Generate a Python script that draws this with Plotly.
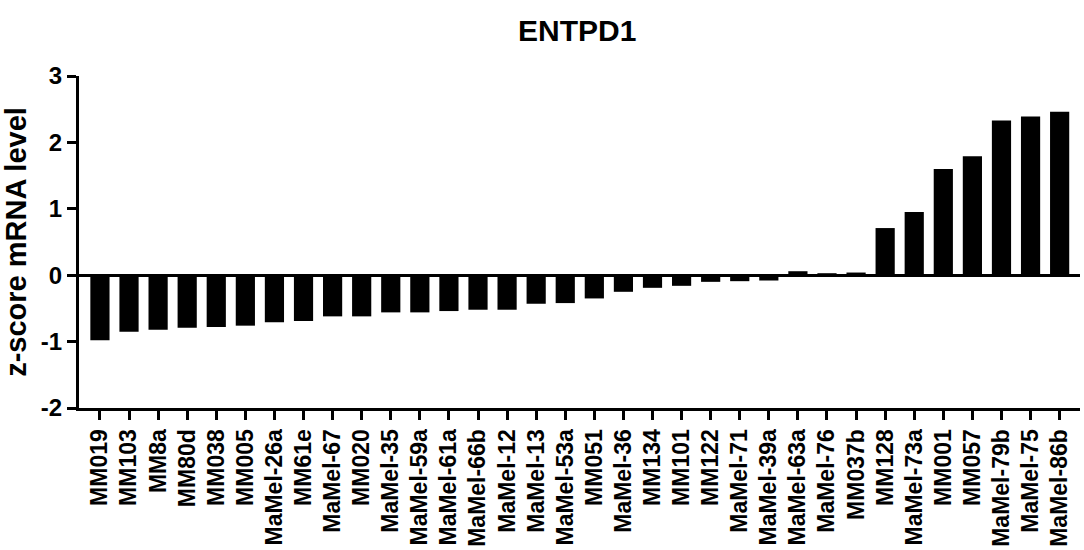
import plotly.graph_objects as go

# Cell lines ordered by ENTPD1 expression
cell_lines = [
    "MM019", "MM103", "MM8a", "MM80d", "MM038", "MM005", "MaMel-26a", "MM61e",
    "MaMel-67", "MM020", "MaMel-35", "MaMel-59a", "MaMel-61a", "MaMel-66b",
    "MaMel-12", "MaMel-13", "MaMel-53a", "MM051", "MaMel-36", "MM134", "MM101",
    "MM122", "MaMel-71", "MaMel-39a", "MaMel-63a", "MaMel-76", "MM037b", "MM128",
    "MaMel-73a", "MM001", "MM057", "MaMel-79b", "MaMel-75", "MaMel-86b",
]
z_scores = [
    -0.98, -0.85, -0.82, -0.79, -0.78, -0.76, -0.71, -0.69,
    -0.62, -0.62, -0.56, -0.56, -0.54, -0.52,
    -0.52, -0.43, -0.42, -0.35, -0.25, -0.19, -0.16,
    -0.10, -0.09, -0.08, 0.06, 0.03, 0.04, 0.71,
    0.95, 1.60, 1.79, 2.33, 2.39, 2.46,
]
y_ticks = [-2, -1, 0, 1, 2, 3]
y_tick_labels = ["-2", "-1", "0", "1", "2", "3"]

FONT = "Liberation Sans, Arial, sans-serif"

fig = go.Figure(
    go.Bar(
        x=list(range(len(cell_lines))),
        y=z_scores,
        width=0.66,
        marker=dict(color="black", line=dict(width=0)),
        hoverinfo="x+y",
    )
)

fig.update_layout(
    width=1084,
    height=550,
    margin=dict(l=79, r=4, t=76, b=142),
    plot_bgcolor="white",
    paper_bgcolor="white",
    showlegend=False,
    title=dict(
        text="ENTPD1",
        x=0.5325,
        xanchor="center",
        y=0.945,
        yref="container",
        yanchor="middle",
        font=dict(family=FONT, size=30, color="black", weight="bold"),
    ),
)

fig.update_xaxes(
    range=[-0.72, len(cell_lines) - 0.3],
    tickmode="array",
    tickvals=list(range(len(cell_lines))),
    ticktext=cell_lines,
    tickangle=-90,
    ticks="outside",
    ticklen=9,
    tickwidth=2.5,
    tickcolor="black",
    showline=True,
    linecolor="black",
    linewidth=3,
    showgrid=False,
    zeroline=False,
    tickfont=dict(family=FONT, size=23, color="black", weight="bold"),
)

fig.update_yaxes(
    range=[-2, 3],
    tickmode="array",
    tickvals=y_ticks,
    ticktext=y_tick_labels,
    ticks="outside",
    ticklen=9,
    tickwidth=2.5,
    tickcolor="black",
    showline=True,
    linecolor="black",
    linewidth=3,
    showgrid=False,
    zeroline=True,
    zerolinecolor="black",
    zerolinewidth=3,
    tickfont=dict(family=FONT, size=24, color="black", weight="bold"),
    title=dict(
        text="z-score mRNA level",
        font=dict(family=FONT, size=29, color="black", weight="bold"),
        standoff=6,
    ),
)

fig.write_html("out.html")
